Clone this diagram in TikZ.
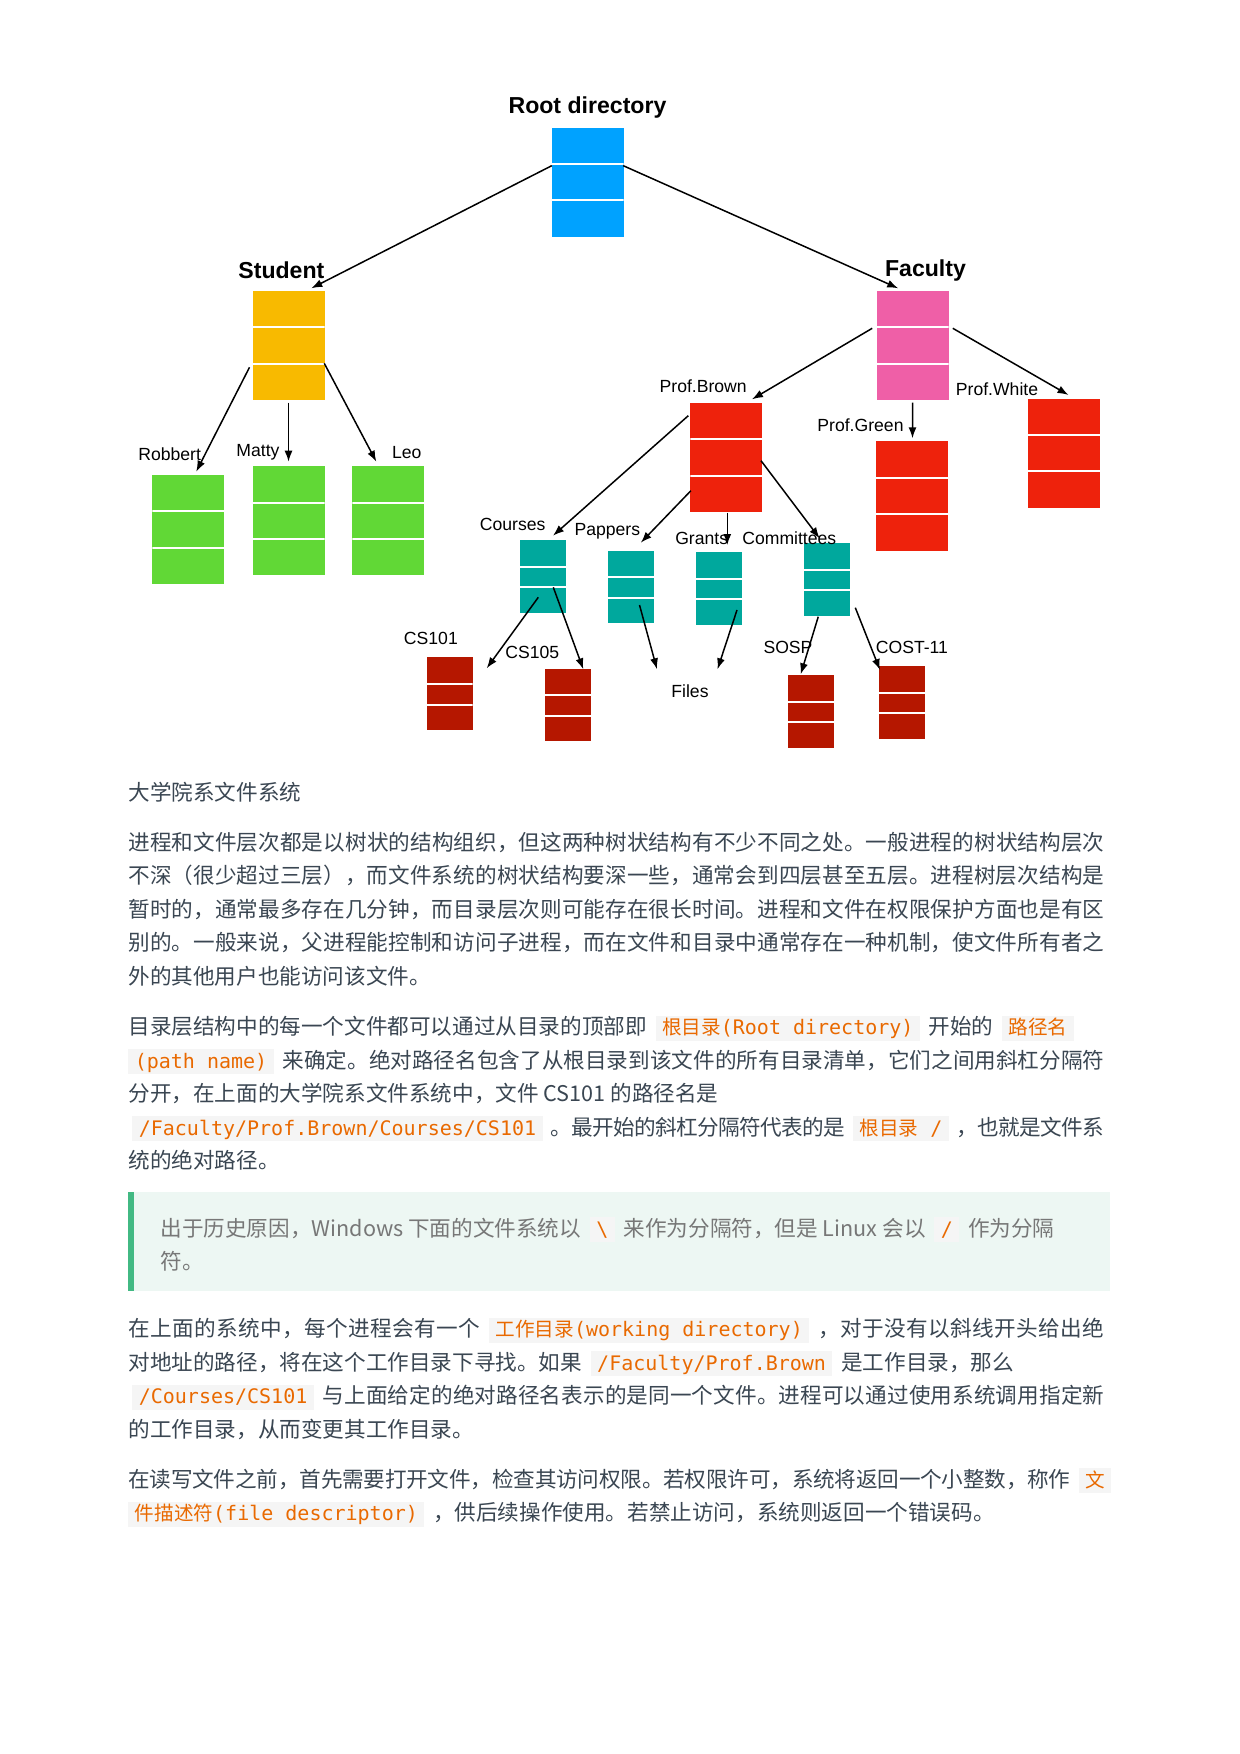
\documentclass[tikz,border=0pt]{standalone}
\usepackage{fontspec}
\usepackage{tikz}
\usetikzlibrary{calc,arrows.meta}
\newfontfamily\cjk{Noto Sans CJK SC}
\newfontfamily\mono{DejaVu Sans Mono}
\newfontfamily\lbl{Liberation Sans}
\XeTeXlinebreaklocale "zh"
\XeTeXlinebreakskip=0pt plus 1pt minus 0.5pt

\definecolor{rootblue}{HTML}{00A2FF}
\definecolor{studyellow}{HTML}{F8BA00}
\definecolor{facpink}{HTML}{EF5FA7}
\definecolor{profred}{HTML}{EE220C}
\definecolor{usergreen}{HTML}{61D836}
\definecolor{subteal}{HTML}{00A89D}
\definecolor{filered}{HTML}{B51700}
\definecolor{bodytext}{HTML}{3A4652}
\definecolor{codeorange}{HTML}{E96900}
\definecolor{codebg}{HTML}{F5F5F5}
\definecolor{quotebg}{HTML}{EDF7F3}
\definecolor{quotebar}{HTML}{42B983}
\definecolor{quotetext}{HTML}{777777}

\newcommand{\zh}[1]{{\cjk\fontsize{9.8pt}{12pt}\selectfont #1}}
\newcommand{\codebox}[1]{{\setlength{\fboxsep}{0pt}\colorbox{codebg}{\rule[-3pt]{0pt}{12.5pt}\hspace{3.2pt}\color{codeorange}\mono\fontsize{10pt}{12pt}\selectfont #1\hspace{3.2pt}}}}
\newcommand{\code}[1]{\hspace{2pt}\codebox{#1}\hspace{2pt}}
\newcommand{\codecont}[1]{\codebox{#1}\hspace{2pt}}
\newcommand{\jline}[2][488pt]{\parbox[b]{#1}{\tolerance=10000\hbadness=10000\parfillskip=0pt\relax #2}}

\tikzset{
  dirlines/.style={path picture={
      \foreach \f in {#1}
        \draw[white, line width=1pt]
          ($(path picture bounding box.north west)!\f!(path picture bounding box.south west)$) --
          ($(path picture bounding box.north east)!\f!(path picture bounding box.south east)$);
    }},
  bigdir/.style={rectangle, fill=#1, draw=none, inner sep=0pt, minimum width=36pt, minimum height=54.5pt, dirlines={0.333,0.667}},
  smalldir/.style={rectangle, fill=#1, draw=none, inner sep=0pt, minimum width=23pt, minimum height=36.4pt, dirlines={0.367,0.65}},
  head/.style={inner sep=0pt, font=\lbl\bfseries\fontsize{11.55pt}{13pt}\selectfont},
  lab/.style={inner sep=0pt, font=\lbl\fontsize{8.8pt}{10pt}\selectfont},
  arr/.style={-{Latex[length=5.5pt,width=4pt]}, line width=0.75pt},
  txt/.style={anchor=base west, inner sep=0pt, text=bodytext, font=\cjk\fontsize{10.8pt}{13pt}\selectfont},
  qtxt/.style={txt, text=quotetext},
}

\begin{document}
\begin{tikzpicture}[x=0.5pt, y=-0.5pt]
    \fill[white] (0,0) rectangle (1240,1754);
    \useasboundingbox (0,0) rectangle (1240,1754);

    %% Directory boxes
    \node[bigdir=rootblue] (root) at (587.5,182.3) {};
    \node[bigdir=studyellow] (student) at (288.5,345.7) {};
    \node[bigdir=facpink] (faculty) at (912.5,345.7) {};
    \node[bigdir=usergreen] (robbert) at (188.4,529.5) {};
    \node[bigdir=usergreen] (matty) at (288.5,520.8) {};
    \node[bigdir=usergreen] (leo) at (388.3,520.8) {};
    \node[bigdir=profred] (brown) at (726.3,457.7) {};
    \node[bigdir=profred] (green) at (912.2,496) {};
    \node[bigdir=profred] (white) at (1064,453.2) {};
    \node[smalldir=subteal] (courses) at (543,576.3) {};
    \node[smalldir=subteal] (pappers) at (630.8,587) {};
    \node[smalldir=subteal] (grants) at (718.8,588.2) {};
    \node[smalldir=subteal] (committees) at (826.8,579.3) {};
    \node[smalldir=filered] (cs101) at (449.7,693.8) {};
    \node[smalldir=filered] (cs105) at (568,705) {};
    \node[smalldir=filered] (sosp) at (811.2,711.3) {};
    \node[smalldir=filered] (cost) at (902.2,702.5) {};

    %% Labels
    \node[head] (lroot) at (587.5,107.7) {Root directory};
    \node[head] (lstudent) at (281.4,270.7) {Student};
    \node[head] (lfaculty) at (925.5,270.7) {Faculty};
    \node[lab] (lrobbert) at (169.6,454) {Robbert};
    \node[lab] (lmatty) at (258,452.3) {Matty};
    \node[lab] (lleo) at (406.8,452.7) {Leo};
    \node[lab] (lbrown) at (703.2,386) {Prof.Brown};
    \node[lab] (lwhite) at (997,389) {Prof.White};
    \node[lab] (lgreen) at (860.5,425) {Prof.Green};
    \node[lab] (lcourses) at (512.7,524.5) {Courses};
    \node[lab] (lpappers) at (607.3,531.3) {Pappers};
    \node[lab] (lgrants) at (701.7,538.3) {Grants};
    \node[lab] (lcommittees) at (789.3,538.3) {Committees};
    \node[lab] (lcs101) at (430.9,638.3) {CS101};
    \node[lab] (lcs105) at (532.3,652.7) {CS105};
    \node[lab] (lsosp) at (788,647.3) {SOSP};
    \node[lab] (lcost) at (911.9,647.3) {COST-11};
    \node[lab] (files) at (690,691) {Files};

    %% Arrows between directories
    \draw[arr] ($(root)+(-35.75,-16.6)$) -- ($(student)+(22.75,-57.4)$);
    \draw[arr] ($(root)+(35.75,-16.6)$) -- ($(faculty)+(-14.3,-57.4)$);
    \draw[arr] ($(faculty)+(-40.3,-17.4)$) -- ($(brown)+(25.7,-58.4)$);
    \draw[arr] ($(faculty)+(40.3,-17.4)$) -- ($(white)+(4.5,-58.2)$);
    \draw[arr] ($(faculty)+(0,57)$) -- ($(green)+(0.3,-57.7)$);
    \draw[arr] ($(student)+(-39,21.6)$) -- ($(robbert)+(7.8,-57.8)$);
    \draw[arr] ($(student)+(0,57)$) -- ($(matty)+(0,-59.1)$);
    \draw[arr] ($(student)+(35.75,17.6)$) -- ($(leo)+(-12,-59.1)$);
    \draw[arr] ($(brown)+(-38,-42)$) -- ($(courses)+(10,-40.6)$);
    \draw[arr] ($(brown)+(-35.4,33)$) -- ($(pappers)+(10,-44.3)$);
    \draw[arr] ($(brown)+(1,55)$) -- ($(grants)+(8.5,-43.2)$);
    \draw[arr] ($(brown)+(34.7,3)$) -- ($(committees)+(-7.2,-41)$);
    \draw[arr] ($(courses)+(-4.7,21)$) -- ($(cs101)+(37,-25.5)$);
    \draw[arr] ($(courses)+(10.3,11)$) -- ($(cs105)+(15.3,-35.7)$);
    \draw[arr] ($(pappers)+(8.7,18)$) -- ($(files)+(-33,-21.7)$);
    \draw[arr] ($(grants)+(18.2,21.8)$) -- ($(files)+(27.5,-21.7)$);
    \draw[arr] ($(committees)+(-8.55,37.4)$) -- ($(sosp)+(-10.5,-37)$);
    \draw[arr] ($(committees)+(28.5,28.4)$) -- ($(cost)+(-22.2,-32.5)$);

    %% Caption and first paragraph
    \node[txt] (cap) at (128,800) {大学院系文件系统};
    \node[txt] (pa1) at (128,850) {\jline{进程和文件层次都是以树状的结构组织，但这两种树状结构有不少不同之处。一般进程的树状结构层次}};
    \node[txt] (pa2) at (128,883.5) {\jline{不深（很少超过三层），而文件系统的树状结构要深一些，通常会到四层甚至五层。进程树层次结构是}};
    \node[txt] (pa3) at (128,917) {\jline{暂时的，通常最多存在几分钟，而目录层次则可能存在很长时间。进程和文件在权限保护方面也是有区}};
    \node[txt] (pa4) at (128,950.5) {\jline{别的。一般来说，父进程能控制和访问子进程，而在文件和目录中通常存在一种机制，使文件所有者之}};
    \node[txt] (pa5) at (128,984) {外的其他用户也能访问该文件。};

    %% Path names
    \node[txt] (pb1) at (128,1034.5) {目录层结构中的每一个文件都可以通过从目录的顶部即 \code{\zh{根目录}(Root directory)} 开始的 \code{\zh{路径名}}};
    \node[txt] (pb2) at (128,1068) {\jline{\codecont{(path name)} 来确定。绝对路径名包含了从根目录到该文件的所有目录清单，它们之间用斜杠分隔符}};
    \node[txt] (pb3) at (128,1101.5) {分开，在上面的大学院系文件系统中，文件 CS101 的路径名是};
    \node[txt] (pb4) at (128,1135) {\jline{\code{/Faculty/Prof.Brown/Courses/CS101} 。最开始的斜杠分隔符代表的是 \code{\zh{根目录} /} ，也就是文件系}};
    \node[txt] (pb5) at (128,1168.5) {统的绝对路径。};

    %% Quote block
    \fill[quotebg] (128,1192) rectangle (1110,1291);
    \fill[quotebar] (128,1192) rectangle (134,1291);
    \node[qtxt] (qa1) at (160,1236) {出于历史原因，Windows 下面的文件系统以 \code{\textbackslash} 来作为分隔符，但是 Linux 会以 \code{/} 作为分隔};
    \node[qtxt] (qa2) at (160,1269.5) {符。};

    %% Working directory
    \node[txt] (pc1) at (128,1336.5) {\jline{在上面的系统中，每个进程会有一个 \code{\zh{工作目录}(working directory)} ，对于没有以斜线开头给出绝}};
    \node[txt] (pc2) at (128,1370) {对地址的路径，将在这个工作目录下寻找。如果 \code{/Faculty/Prof.Brown} 是工作目录，那么};
    \node[txt] (pc3) at (128,1403.5) {\jline{\code{/Courses/CS101} 与上面给定的绝对路径名表示的是同一个文件。进程可以通过使用系统调用指定新}};
    \node[txt] (pc4) at (128,1437) {的工作目录，从而变更其工作目录。};

    %% File descriptor
    \node[txt] (pd1) at (128,1487) {\jline[491.5pt]{在读写文件之前，首先需要打开文件，检查其访问权限。若权限许可，系统将返回一个小整数，称作 \code{\zh{文}}}};
    \node[txt] (pd2) at (128,1520.5) {\codecont{\zh{件描述符}(file descriptor)} ，供后续操作使用。若禁止访问，系统则返回一个错误码。};
\end{tikzpicture}
\end{document}
